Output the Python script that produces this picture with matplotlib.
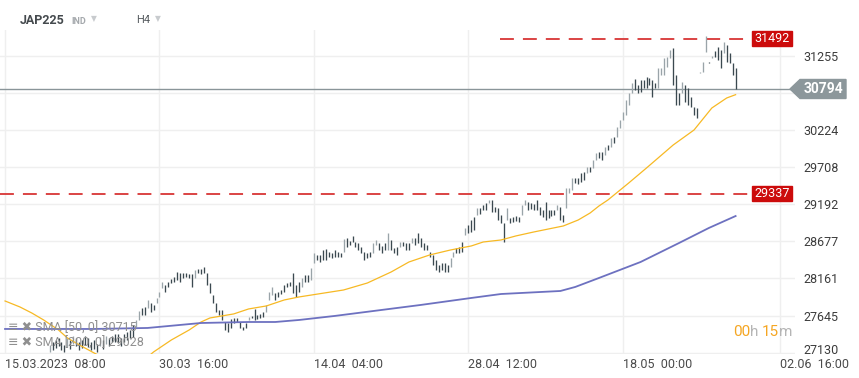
import numpy as np
import matplotlib
matplotlib.use("Agg")
import matplotlib.pyplot as plt
import matplotlib.transforms as mtransforms
from matplotlib.patches import Polygon, Rectangle

plt.rcParams['font.family'] = ['Roboto', 'DejaVu Sans']
plt.rcParams['lines.scale_dashes'] = False

# H4 bars of JAP225 (bar top / bottom)
bar_high = [
    27027, 26999, 26958, 26888, 26916, 26861, 26944, 27027, 27055, 27097, 27055, 27083, 27069, 27083, 27097,
    27236, 27277, 27305, 27333, 27277, 27236, 27333, 27305, 27361, 27333, 27277, 27305, 27361, 27333, 27277,
    27305, 27249, 27347, 27305, 27361, 27333, 27361, 27389, 27389, 27333, 27389, 27416, 27444,
    27514, 27583, 27708, 27750, 27764, 27861,
    27819, 27792, 27889, 27972, 28111, 28070, 28111, 28153, 28181, 28250, 28236, 28236, 28236, 28222, 28222,
    28278, 28292, 28292, 28320, 28236, 28097, 27931, 27819, 27722, 27722, 27555, 27541, 27597, 27611, 27611,
    27555, 27486, 27541, 27625, 27639, 27736, 27653, 27667, 27694, 27792, 27972, 28042, 27958, 27972, 28000,
    28070, 28097, 28111, 28236, 28070, 28111, 28167,
    28209, 28209, 28306, 28514, 28487, 28487, 28556, 28570, 28528, 28514, 28556, 28528, 28514, 28709, 28723,
    28681, 28751, 28667, 28654, 28598, 28528, 28514, 28528, 28654, 28695, 28654, 28612, 28654, 28792, 28695,
    28584, 28598, 28667, 28667, 28654, 28654, 28723, 28723, 28792, 28723, 28654, 28626, 28528, 28487, 28417,
    28348, 28375, 28375, 28348, 28445,
    28528, 28584, 28598, 28667, 28862, 28904, 28973, 29015, 29140, 29140, 29181, 29209, 29251, 29251, 29154,
    29140, 29042, 28931, 29140, 29001, 29015, 29029, 29015, 29181, 29251, 29223, 29209, 29195, 29251, 29154,
    29112, 29223, 29112, 29112, 29112, 29181, 29154, 29042, 29418, 29418, 29557, 29557, 29557, 29626, 29640,
    29710, 29710, 29807, 29904, 29918,
    29918, 29988, 30016, 30113, 30127, 30266, 30363, 30474, 30641, 30738, 30877, 30933, 30850, 30919, 30919,
    30961, 30947, 30919, 30877, 31086, 31086, 31225, 31239, 31336, 31364, 30989, 30738, 30891, 30850, 30808,
    30683, 30544, 30530, 31030, 31169, 31531, 31169, 31253, 31322, 31378, 31336, 31447, 31406, 31294, 31155,
    31086,
]
bar_low = [
    26916, 26861, 26819, 26777, 26749, 26721, 26819, 26888, 26944, 26971, 26916, 26971, 26958, 26985, 26999,
    27138, 27166, 27194, 27222, 27166, 27138, 27208, 27180, 27249, 27222, 27166, 27194, 27236, 27208, 27166,
    27180, 27138, 27222, 27180, 27249, 27222, 27277, 27277, 27263, 27222, 27277, 27305, 27333,
    27347, 27486, 27583, 27653, 27653, 27750,
    27694, 27722, 27819, 27903, 28028, 27972, 28042, 28097, 28111, 28139, 28111, 28167, 28181, 28167, 28042,
    28167, 28236, 28222, 28236, 28070, 27958, 27819, 27694, 27653, 27583, 27444, 27416, 27472, 27541, 27555,
    27472, 27444, 27472, 27583, 27611, 27583, 27597, 27611, 27625, 27694, 27861, 27931, 27861, 27903, 27944,
    27972, 28042, 28056, 27958, 27903, 27972, 28042,
    28111, 28111, 28139, 28375, 28417, 28389, 28417, 28417, 28459, 28445, 28459, 28459, 28459, 28528, 28598,
    28626, 28667, 28598, 28556, 28514, 28417, 28445, 28459, 28514, 28626, 28556, 28514, 28556, 28556, 28556,
    28514, 28487, 28598, 28612, 28556, 28556, 28654, 28626, 28654, 28598, 28556, 28556, 28459, 28348, 28278,
    28250, 28278, 28250, 28250, 28320,
    28459, 28514, 28514, 28528, 28764, 28792, 28806, 28834, 29042, 29056, 29112, 29112, 29209, 29084, 29084,
    28973, 28931, 28667, 28973, 28931, 28945, 28959, 28945, 29042, 29181, 29112, 29126, 29112, 29112, 29042,
    29015, 28973, 29001, 29029, 29042, 29112, 28973, 28945, 29140, 29348, 29390, 29487, 29473, 29501, 29529,
    29626, 29640, 29696, 29807, 29835,
    29807, 29876, 29946, 29988, 30043, 30127, 30252, 30363, 30433, 30572, 30738, 30780, 30738, 30752, 30808,
    30808, 30850, 30683, 30808, 30808, 30989, 30989, 31100, 31225, 30850, 30572, 30572, 30738, 30613, 30572,
    30544, 30433, 30391, 31016, 31030, 31308, 31155, 31225, 31239, 31197, 31086, 31294, 31169, 31155, 30989,
    30794,
]

sma50_idx = [0, 5, 9, 13, 18, 21, 25, 30, 36, 42, 48, 50, 56, 62, 66, 69, 77, 82, 88, 94, 99, 114, 122, 130,
             136, 143, 150, 157, 161, 167, 172, 178, 183, 188, 193, 197, 200, 203, 210, 216, 225, 232, 238,
             243, 246]
sma50_val = [27847, 27764, 27680, 27583, 27444, 27333, 27236, 27124, 26999, 26916, 27069, 27138, 27305, 27444,
             27555, 27611, 27667, 27736, 27778, 27861, 27903, 28000, 28097, 28250, 28389, 28487, 28556, 28612,
             28667, 28695, 28751, 28806, 28848, 28890, 28973, 29070, 29168, 29251, 29487, 29696, 30016, 30224,
             30530, 30669, 30715]

sma200_idx = [0, 30, 48, 66, 82, 91, 99, 111, 140, 157, 167, 187, 192, 200, 214, 227, 237, 246]
sma200_val = [27458, 27458, 27472, 27541, 27555, 27555, 27583, 27639, 27792, 27889, 27944, 27986, 28042, 28167,
              28389, 28654, 28862, 29028]

last_price = 30794
resistance = 31492
support = 29337
price_ticks = [27130, 27645, 28161, 28677, 29192, 29708, 30224, 30740, 31255]
price_labels = ["27130", "27645", "28161", "28677", "29192", "29708", "30224", "", "31255"]
date_idx = [0, 52, 104, 156, 208, 261]
date_labels = ["15.03.2023  08:00", "30.03  16:00", "14.04  04:00", "28.04  12:00",
               "18.05  00:00", "02.06  16:00"]

W, H = 859, 378
fig = plt.figure(figsize=(W / 100, H / 100), dpi=100)
ax = fig.add_axes([0, 24 / H, 795 / W, 324 / H])
ax.set_xlim(-1.7, 266)
ax.set_ylim(27110, 31614)

for s in ax.spines.values():
    s.set_visible(False)
ax.set_axisbelow(True)
ax.grid(color='#efefef', lw=1)

ax.set_yticks(price_ticks)
ax.set_yticklabels(price_labels)
ax.yaxis.tick_right()
ax.tick_params(axis='y', length=0, pad=6, labelsize=9, labelcolor='#3c3c3c')
ax.set_xticks(date_idx)
ax.set_xticklabels(date_labels, ha='left')
ax.tick_params(axis='x', length=0, pad=3, labelsize=9, labelcolor='#4a4a4a')
# lowest price label sits a little above its grid line
bottom_lab = ax.get_yticklabels()[0]
bottom_lab.set_transform(bottom_lab.get_transform() + mtransforms.ScaledTranslation(0, 4 / 100, fig.dpi_scale_trans))

# bars
x = np.arange(len(bar_high))
hi = np.array(bar_high)
lo = np.array(bar_low)
mid = (hi + lo) / 2
jump_up = np.r_[False, mid[1:] - mid[:-1] > 60]
cols = np.where(jump_up, '#9aa4a9', '#3b4950')
ax.vlines(x, lo, hi, colors=cols, lw=0.95, zorder=3)

# moving averages
ax.plot(sma50_idx, sma50_val, color='#f7b924', lw=0.9, zorder=4)
ax.plot(sma200_idx, sma200_val, color='#6d71c0', lw=1.3, zorder=4)

# levels
l1 = ax.axhline(resistance, xmin=500 / 795, xmax=750 / 795, color='#d83535', lw=1.3, zorder=2)
l2 = ax.axhline(support, xmin=0, xmax=750 / 795, color='#d83535', lw=1.3, zorder=2)
for l in (l1, l2):
    l.set_dashes((10, 6.5))
ax.axhline(last_price, color='#8a9599', lw=1.0, zorder=2)

ident = mtransforms.IdentityTransform()
for lvl in (resistance, support):
    py = ax.transData.transform((0, lvl))[1]
    fig.add_artist(Rectangle((752, py - 7.5), 40, 15, transform=ident, color='#cc0b0b', zorder=5))
    fig.text(772 / W, py / H, str(lvl), ha='center', va='center', color='white', fontsize=9, zorder=6)

py = ax.transData.transform((0, last_price))[1]
fig.add_artist(Polygon([(790, py), (800, py + 9.5), (846, py + 9.5), (846, py - 9.5), (800, py - 9.5)],
                       closed=True, transform=ident, color='#8c979b', zorder=5))
fig.text(823 / W, py / H, str(last_price), ha='center', va='center', color='white', fontsize=10,
         fontweight='bold', zorder=6)

# header
fig.text(20 / W, 1 - 20 / H, "JAP225", fontsize=9, fontweight='bold', color='#454a4e', va='center')
fig.text(71 / W, 1 - 21 / H, "IND", fontsize=6.5, fontweight='bold', color='#a5a9ad', va='center')
fig.text(91 / W, 1 - 19 / H, "▼", fontsize=5.5, color='#c8cbce', va='center')
fig.text(136 / W, 1 - 20 / H, "H4", fontsize=8, color='#555a5e', va='center')
fig.text(155 / W, 1 - 19 / H, "▼", fontsize=5.5, color='#c8cbce', va='center')

# indicator legend
fig.text(8 / W, 1 - 328 / H, "≡ ✖ SMA [50, 0] 30715", fontsize=9, color='#8f8f8f', va='center', zorder=6)
fig.text(8 / W, 1 - 343 / H, "≡ ✖ SMA [200, 0] 29028", fontsize=9, color='#8f8f8f', va='center', zorder=6)

# candle timer
fig.text(733 / W, 1 - 332 / H, "00", fontsize=11, color='#f5a623', va='center')
fig.text(750 / W, 1 - 332 / H, "h", fontsize=11, color='#b5b5b5', va='center')
fig.text(762 / W, 1 - 332 / H, "15", fontsize=11, color='#f5a623', va='center')
fig.text(779 / W, 1 - 332 / H, "m", fontsize=11, color='#b5b5b5', va='center')

fig.savefig("out.png", dpi=100)
